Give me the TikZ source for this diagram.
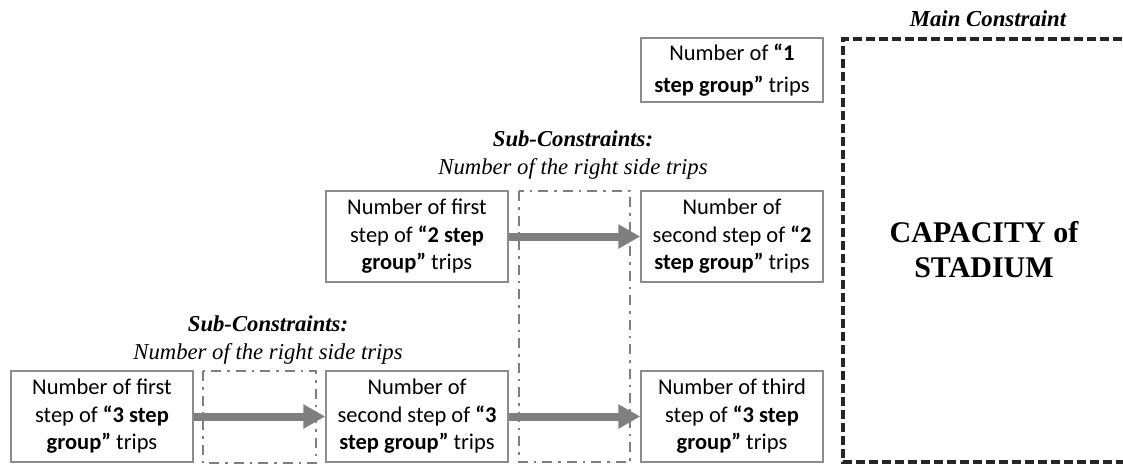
\documentclass[tikz,border=0pt]{standalone}
\usepackage{fontspec}
\setmainfont{Carlito}
\newfontfamily\timesfont{Liberation Serif}
\usetikzlibrary{arrows.meta}
\definecolor{boxgray}{HTML}{8C8C8C}
\definecolor{arrowgray}{HTML}{7F7F7F}

\begin{document}
\begin{tikzpicture}[
    x=1pt, y=-1pt,
    every node/.style={font=\fontsize{22.5}{27.5}\selectfont},
    stepbox/.style={draw=boxgray, line width=1.4pt, align=center,
        minimum width=182pt, minimum height=91pt, inner sep=0pt},
    flow/.style={arrowgray, line width=8pt,
        -{Triangle[length=22pt, width=23pt]}},
    subbox/.style={draw=arrowgray, line width=2.8pt,
        dash pattern=on 10pt off 6pt on 2.5pt off 6pt},
    mainbox/.style={draw=black!85, line width=3.2pt,
        dash pattern=on 9pt off 4pt},
    sub label/.style={align=center,
        font=\timesfont\itshape\fontsize{22.7}{27.5}\selectfont}
]

    % --- 1. GRID OF THE DIAGRAM ---
    \def\colw{315}     % horizontal step between the columns
    \def\xA{102}
    \pgfmathsetmacro{\xB}{\xA + \colw}
    \pgfmathsetmacro{\xC}{\xA + 2*\colw}
    \def\rowOne{70}
    \def\rowTwo{236.5}
    \def\rowThree{416.5}

    \useasboundingbox (0,0) rectangle (1123,464);

    % --- 2. CONSTRAINT FRAMES ---
    % Main constraint (right side runs off the page)
    \draw[mainbox] (1135,39) -- (843,39) -- (843,462) -- (1135,462);
    \node[font=\timesfont\bfseries\itshape\fontsize{22.8}{26}\selectfont]
        (mainlabel) at (988,19) {Main Constraint};
    \node[align=center, font=\timesfont\bfseries\fontsize{30}{35}\selectfont]
        (capacity) at (984,250) {CAPACITY of\\STADIUM};

    % Sub-constraints
    \draw[subbox] (519,191) rectangle (630,462);
    \draw[subbox] (203,371) rectangle (316,463);
    \node[sub label] (subtwo) at (573,155)
        {\textbf{Sub-Constraints:}\\Number of the right side trips};
    \node[sub label] (subthree) at (268,340)
        {\textbf{Sub-Constraints:}\\Number of the right side trips};

    % --- 3. STEP BOXES ---
    % 1 step group
    \node[stepbox, minimum height=64pt, font=\fontsize{22.5}{32}\selectfont]
        (onestep) at (\xC,\rowOne)
        {Number of \textbf{“1}\\\textbf{step group”} trips};

    % 2 step group
    \node[stepbox] (firsttwo) at (\xB,\rowTwo)
        {Number of first\\step of \textbf{“2 step}\\\textbf{group”} trips};
    \node[stepbox] (secondtwo) at (\xC,\rowTwo)
        {Number of\\second step of \textbf{“2}\\\textbf{step group”} trips};

    % 3 step group
    \node[stepbox] (firstthree) at (\xA,\rowThree)
        {Number of first\\step of \textbf{“3 step}\\\textbf{group”} trips};
    \node[stepbox] (secondthree) at (\xB,\rowThree)
        {Number of\\second step of \textbf{“3}\\\textbf{step group”} trips};
    \node[stepbox] (thirdthree) at (\xC,\rowThree)
        {Number of third\\step of \textbf{“3 step}\\\textbf{group”} trips};

    % --- 4. FLOW ARROWS ---
    \draw[flow] (firsttwo) -- (secondtwo);
    \draw[flow] (firstthree) -- (secondthree);
    \draw[flow] (secondthree) -- (thirdthree);

\end{tikzpicture}
\end{document}
